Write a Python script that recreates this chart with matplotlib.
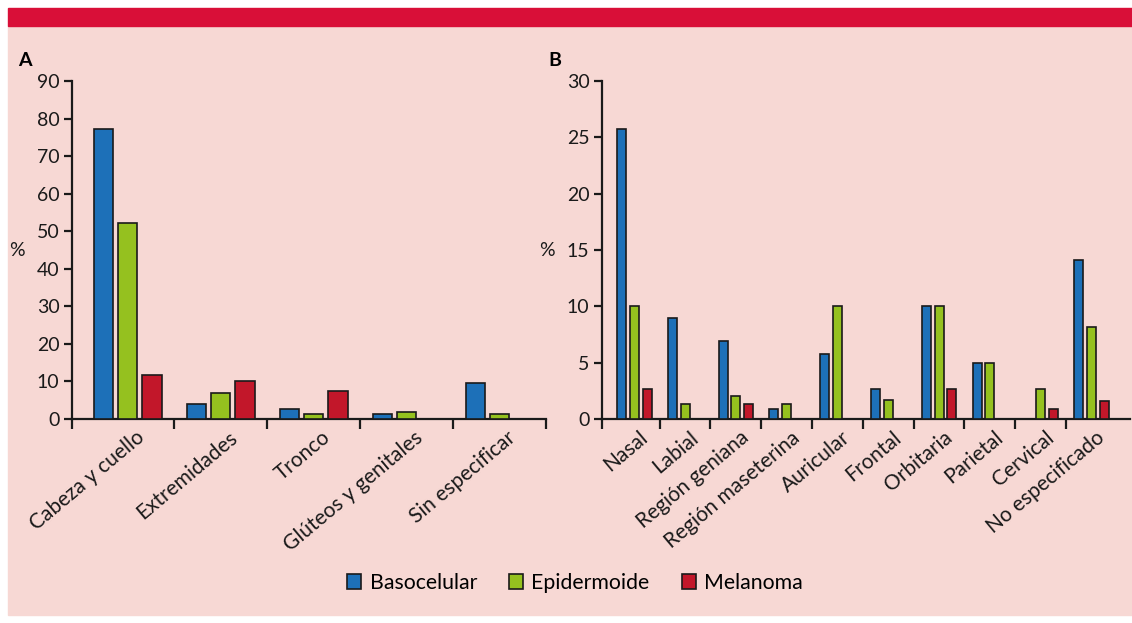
import numpy as np
import matplotlib
matplotlib.use("Agg")
import matplotlib.pyplot as plt
from matplotlib.patches import Rectangle

plt.rcParams['font.family'] = ['Lato', 'DejaVu Sans']

series = ["Basocelular", "Epidermoide", "Melanoma"]
colors = ["#1d70b8", "#95c11f", "#c2172a"]

# Panel A: localizacion general
cats_a = ["Cabeza y cuello", "Extremidades", "Tronco", "Glúteos y genitales", "Sin especificar"]
baso_a = [77.2, 4.0, 2.6, 1.2, 9.7]
epi_a = [52.2, 6.8, 1.2, 1.9, 1.2]
mel_a = [11.7, 10.0, 7.5, 0.0, 0.0]

# Panel B: cabeza y cuello
cats_b = ["Nasal", "Labial", "Región geniana", "Región maseterina", "Auricular",
          "Frontal", "Orbitaria", "Parietal", "Cervical", "No especificado"]
baso_b = [25.7, 9.0, 6.9, 0.85, 5.8, 2.7, 10.0, 5.0, 0.0, 14.1]
epi_b = [10.0, 1.3, 2.0, 1.3, 10.0, 1.7, 10.0, 5.0, 2.7, 8.2]
mel_b = [2.7, 0.0, 1.3, 0.0, 0.0, 0.0, 2.7, 0.0, 0.85, 1.6]

W, H = 1132, 623
fig = plt.figure(figsize=(W / 100, H / 100), dpi=100)
fig.patch.set_facecolor("white")
fig.patches.append(Rectangle((8 / W, 8 / H), 1 - 8 / W, (615 - 26) / H,
                             transform=fig.transFigure, color="#f7d8d4", zorder=-10))
fig.patches.append(Rectangle((8 / W, (H - 26) / H), 1 - 8 / W, 18 / H,
                             transform=fig.transFigure, color="#d90f38", zorder=-10))


def panel(rect, cats, vals, ymax, ystep, xlim, width, step):
    ax = fig.add_axes(rect)
    ax.set_facecolor("none")
    x = np.arange(len(cats))
    for k, v in enumerate(vals):
        v = np.array(v)
        m = v > 0
        ax.bar(x[m] + (k - 1) * step, v[m], width, color=colors[k],
               edgecolor="#1a1a1a", linewidth=1.2, zorder=3)
    ax.set_xlim(*xlim)
    ax.set_ylim(0, ymax)
    ax.set_yticks(np.arange(0, ymax + 1, ystep))
    for s in ["top", "right"]:
        ax.spines[s].set_visible(False)
    for s in ["left", "bottom"]:
        ax.spines[s].set_linewidth(1.6)
        ax.spines[s].set_color("#1a1a1a")
    ax.tick_params(axis="y", length=6, width=1.6, labelsize=14, pad=3, colors="#1a1a1a")
    edges = [xlim[0]] + list(x[:-1] + 0.5)
    if xlim[1] <= len(cats) - 0.5 + 1e-6:
        edges.append(len(cats) - 0.5)
    ax.set_xticks(edges)
    ax.set_xticklabels([])
    ax.tick_params(axis="x", which="major", length=7, width=1.6, colors="#1a1a1a")
    ax.set_xticks(x + 0.08, minor=True)
    ax.set_xticklabels(cats, minor=True, rotation=40, ha="right",
                       rotation_mode="anchor", fontsize=15, color="#1a1a1a")
    ax.tick_params(axis="x", which="minor", length=0, pad=6)
    ax.set_ylabel("%", rotation=0, fontsize=14, color="#1a1a1a", labelpad=14, va="center")
    return ax


ax_a = panel([72 / W, (H - 419) / H, 474 / W, 338 / H], cats_a,
             [baso_a, epi_a, mel_a], 90, 10, (-0.597, 4.5), 0.205, 0.263)
ax_b = panel([602 / W, (H - 419) / H, 528 / W, 338 / H], cats_b,
             [baso_b, epi_b, mel_b], 30, 5, (-0.636, 9.76), 0.178, 0.252)

fig.text(18 / W, (H - 60) / H, "A", fontsize=14, fontweight="bold", va="center")
fig.text(548 / W, (H - 60) / H, "B", fontsize=14, fontweight="bold", va="center")

handles = [Rectangle((0, 0), 1, 1, facecolor=c, edgecolor="#1a1a1a", linewidth=1.2)
           for c in colors]
fig.legend(handles, series, loc="center", bbox_to_anchor=(575 / W, (H - 583) / H),
           ncol=3, frameon=False, fontsize=15.3, handlelength=0.66, handleheight=0.66,
           handletextpad=0.4, columnspacing=1.5, borderpad=0)

fig.savefig("out.png", dpi=100)
